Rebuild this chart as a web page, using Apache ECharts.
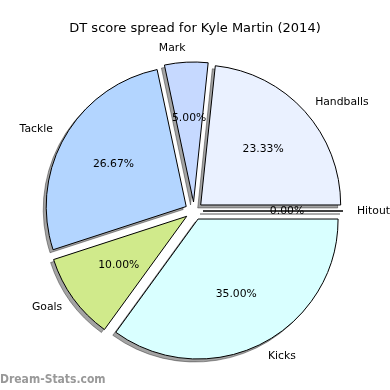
<!DOCTYPE html>
<html>
<head>
<meta charset="utf-8">
<script src="https://cdn.jsdelivr.net/npm/echarts@6/dist/echarts.min.js"></script>
<style>html,body{margin:0;padding:0;background:#fff}#c{width:390px;height:390px}</style>
</head>
<body>
<div id="c"></div>
<script>
const categories = ['Handballs', 'Mark', 'Tackle', 'Goals', 'Kicks', 'Hitout'];
const values = [28, 6, 32, 12, 42, 0];
const colors = ['#eaf1ff', '#c6d9ff', '#b3d5ff', '#d0ea8b', '#d9ffff', '#e0e0ff'];

const FONT = 'DejaVu Sans';
const CX = 194, CY = 211, R = 140, OFF = 9;

const mainData = categories.map((n, i) => ({
  name: n, value: values[i], selected: true,
  itemStyle: { color: colors[i] }
}));
const plainData = categories.map((n, i) => ({ name: n, value: values[i], selected: true }));

const common = {
  type: 'pie', startAngle: 0, clockwise: false,
  selectedMode: 'multiple', selectedOffset: OFF,
  avoidLabelOverlap: false, silent: true,
  emphasis: { disabled: true }
};

const chart = echarts.init(document.getElementById('c'), null, { renderer: 'canvas' });
chart.setOption({
  animation: false,
  backgroundColor: '#fff',
  title: [
    { text: 'DT score spread for Kyle Martin (2014)', left: 'center', top: 17,
      textStyle: { fontFamily: FONT, fontSize: 13, fontWeight: 'normal', color: '#000' } },
    { text: 'Dream-Stats.com', left: 0, top: 374, padding: 0,
      textStyle: { fontFamily: '"DejaVu Sans Condensed", "DejaVu Sans"', fontSize: 12, fontWeight: 'bold', color: '#999' } }
  ],
  series: [
    Object.assign({}, common, {
      center: [CX - 3, CY + 3], radius: R, z: 1,
      itemStyle: { color: 'rgba(0,0,0,0.36)', borderColor: 'rgba(0,0,0,0.36)', borderWidth: 1 },
      select: { itemStyle: { color: 'rgba(0,0,0,0.36)', borderColor: 'rgba(0,0,0,0.36)', borderWidth: 1 } },
      label: { show: false }, labelLine: { show: false },
      data: plainData
    }),
    Object.assign({}, common, {
      center: [CX, CY], radius: R, z: 2,
      select: { itemStyle: { borderColor: '#000', borderWidth: 1 } },
      itemStyle: { borderColor: '#000', borderWidth: 1 },
      label: { show: true, position: 'outside', distanceToLabelLine: 0,
        fontFamily: FONT, fontSize: 10.8, color: '#000', formatter: '{b}' },
      labelLine: { show: false, length: 14, length2: 0 },
      data: mainData
    }),
    Object.assign({}, common, {
      center: [CX, CY], radius: [77, 85], z: 3,
      itemStyle: { color: 'rgba(0,0,0,0)', borderWidth: 0 },
      select: { itemStyle: { color: 'rgba(0,0,0,0)', borderWidth: 0 } },
      label: { show: true, position: 'inside', fontFamily: FONT, fontSize: 10.8, color: '#000',
        formatter: p => p.percent.toFixed(2) + '%' },
      labelLine: { show: false },
      data: plainData
    })
  ]
});
</script>
</body>
</html>
